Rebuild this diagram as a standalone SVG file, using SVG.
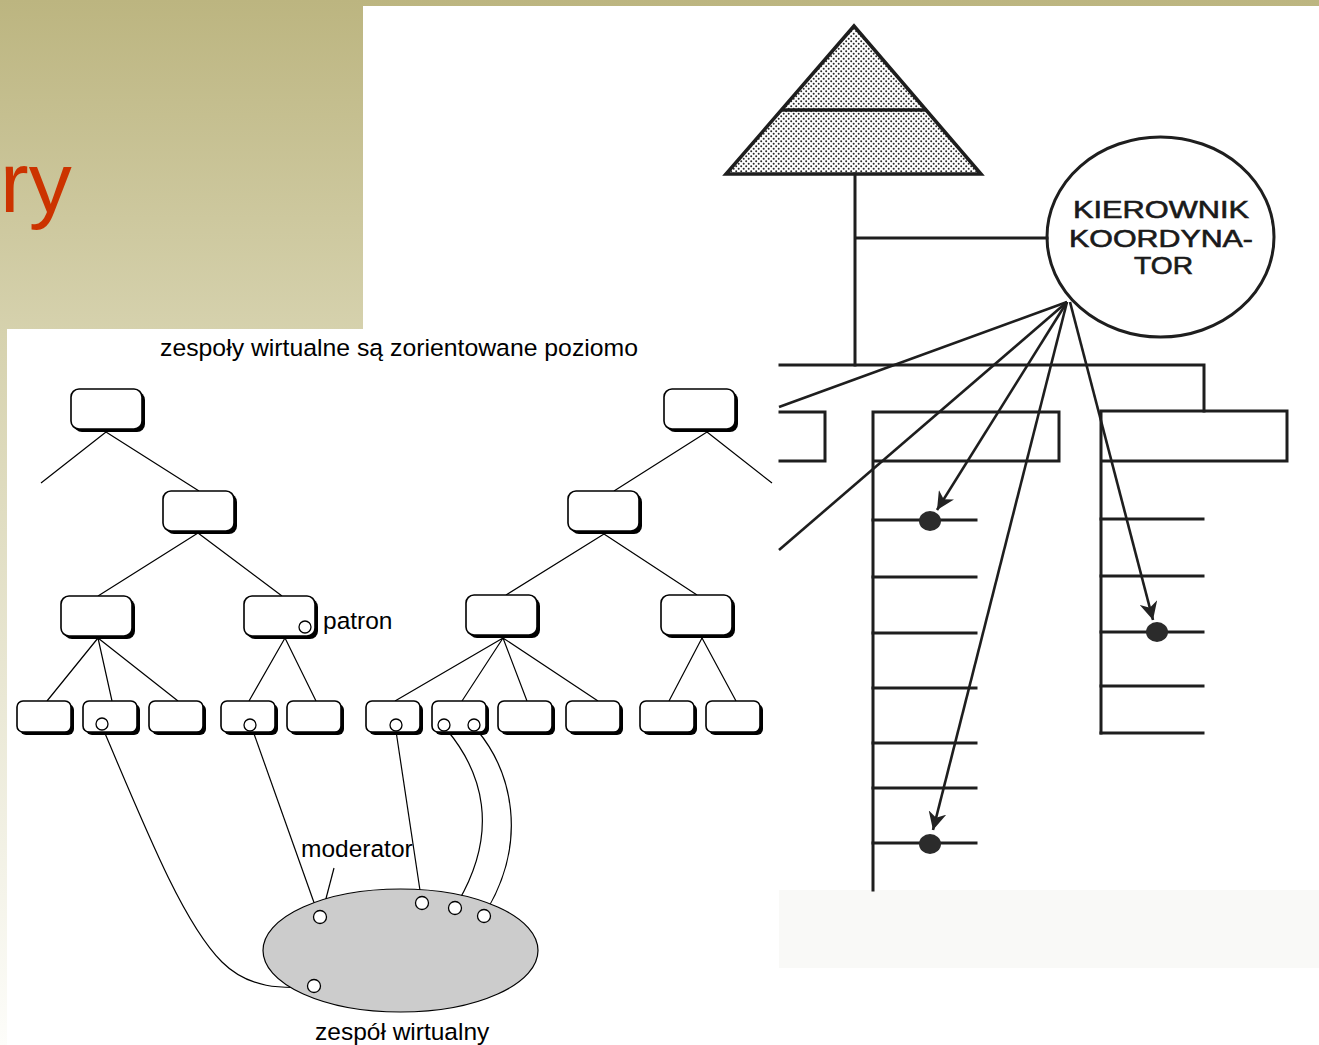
<svg xmlns="http://www.w3.org/2000/svg" width="1319" height="1045" viewBox="0 0 1319 1045">
  <defs>
    <linearGradient id="bg" x1="0" y1="0" x2="0" y2="1045" gradientUnits="userSpaceOnUse">
      <stop offset="0" stop-color="#BCB580"/>
      <stop offset="0.32" stop-color="#D6D2AE"/>
      <stop offset="1" stop-color="#FDFDFA"/>
    </linearGradient>
    <pattern id="stipple" width="5" height="5" patternUnits="userSpaceOnUse">
      <rect width="5" height="5" fill="#ffffff"/>
      <circle cx="1.2" cy="1.2" r="1.0" fill="#2a2a2a"/>
      <circle cx="3.7" cy="3.7" r="1.0" fill="#2a2a2a"/>
    </pattern>
    <marker id="arr" viewBox="0 0 10 10" refX="10" refY="5" markerWidth="18" markerHeight="18" markerUnits="userSpaceOnUse" orient="auto">
      <path d="M0,0 L10,5 L0,10 L3,5 Z" fill="#222"/>
    </marker>
    <g id="bigbox">
      <rect x="3" y="3" width="71" height="40" rx="8" fill="#000"/>
      <rect x="0" y="0" width="71" height="40" rx="8" fill="#fff" stroke="#000" stroke-width="1.6"/>
    </g>
    <g id="leafbox">
      <rect x="3" y="3" width="54" height="31" rx="6" fill="#000"/>
      <rect x="0" y="0" width="54" height="31" rx="6" fill="#fff" stroke="#000" stroke-width="1.6"/>
    </g>
  </defs>
  <style>
    .lbl { font-family: "Liberation Sans", Arial, sans-serif; font-size: 24.5px; fill: #000; }
    .thin { stroke: #000; stroke-width: 1.2; fill: none; }
    .scan { stroke: #1e1e1e; stroke-width: 3; fill: none; stroke-linecap: square; }
    .ray { stroke: #1e1e1e; stroke-width: 2.6; fill: none; }
    .dot { fill: #fff; stroke: #000; stroke-width: 1.3; }
    .blob { fill: #2b2b2b; }
    .kk { font-family: "Liberation Sans", Arial, sans-serif; font-size: 24px; fill: #1a1a1a; stroke: #1a1a1a; stroke-width: 0.6; }
  </style>

  <!-- background -->
  <rect x="0" y="0" width="1319" height="1045" fill="url(#bg)"/>
  <rect x="363" y="6" width="956" height="1039" fill="#ffffff"/>
  <rect x="7" y="329" width="772" height="716" fill="#ffffff"/>
  <rect x="779" y="890" width="540" height="78" fill="#F9F9F7"/>
  <text x="0" y="212" font-family="Liberation Sans, Arial, sans-serif" font-size="86" fill="#CC3300">ry</text>

  <!-- left diagram title and labels -->
  <text class="lbl" x="160" y="356" textLength="478" lengthAdjust="spacingAndGlyphs">zespoły wirtualne są zorientowane poziomo</text>

  <g id="connectors">
    <!-- left tree -->
    <path class="thin" d="M106,432 L41,483 M106,432 L199,491 M198,533 L98,596 M198,533 L282,596 M98,638 L47,701 M98,638 L112,701 M98,638 L178,701 M285,638 L249,701 M285,638 L316,701"/>
    <!-- right tree -->
    <path class="thin" d="M707,432 L614,491 M707,432 L772,483 M604,534 L506,595 M604,534 L697,595 M503,638 L395,701 M503,638 L462,701 M503,638 L527,701 M503,638 L598,701 M702,638 L669,701 M702,638 L736,701"/>
    <!-- virtual team links -->
    <path class="thin" d="M104,731 C150,840 185,925 222,962 C250,990 285,988 308,987"/>
    <path class="thin" d="M253,731 L317,911"/>
    <path class="thin" d="M334,868 L323,910"/>
    <path class="thin" d="M396,731 L421,897"/>
    <path class="thin" d="M447,730 C482,772 500,830 458,902"/>
    <path class="thin" d="M477,730 C512,772 528,840 487,910"/>
  </g>

  <g id="node-tl"><use href="#bigbox" x="71" y="389"/></g>
  <g id="node-l2l"><use href="#bigbox" x="163" y="491"/></g>
  <g id="node-a"><use href="#bigbox" x="61" y="596"/></g>
  <g id="node-b"><use href="#bigbox" x="244" y="596"/><circle class="dot" cx="305" cy="627" r="6"/></g>
  <g id="node-tr"><use href="#bigbox" x="664" y="389"/></g>
  <g id="node-l2r"><use href="#bigbox" x="568" y="491"/></g>
  <g id="node-c"><use href="#bigbox" x="466" y="595"/></g>
  <g id="node-d"><use href="#bigbox" x="661" y="595"/></g>

  <g id="leaf-1"><use href="#leafbox" x="17" y="701"/></g>
  <g id="leaf-2"><use href="#leafbox" x="83" y="701"/><circle class="dot" cx="102" cy="724" r="6"/></g>
  <g id="leaf-3"><use href="#leafbox" x="149" y="701"/></g>
  <g id="leaf-4"><use href="#leafbox" x="221" y="701"/><circle class="dot" cx="250" cy="725" r="6"/></g>
  <g id="leaf-5"><use href="#leafbox" x="287" y="701"/></g>
  <g id="leaf-6"><use href="#leafbox" x="366" y="701"/><circle class="dot" cx="396" cy="725" r="6"/></g>
  <g id="leaf-7"><use href="#leafbox" x="432" y="701"/><circle class="dot" cx="444" cy="725" r="6"/><circle class="dot" cx="474" cy="725" r="6"/></g>
  <g id="leaf-8"><use href="#leafbox" x="498" y="701"/></g>
  <g id="leaf-9"><use href="#leafbox" x="566" y="701"/></g>
  <g id="leaf-10"><use href="#leafbox" x="640" y="701"/></g>
  <g id="leaf-11"><use href="#leafbox" x="706" y="701"/></g>

  <g id="virtual-team">
    <ellipse cx="400.5" cy="950.5" rx="137.5" ry="61.5" fill="#CCCCCC" stroke="#000" stroke-width="1.2"/>
    <circle class="dot" cx="320" cy="917" r="6.5"/>
    <circle class="dot" cx="422" cy="903" r="6.5"/>
    <circle class="dot" cx="455" cy="908" r="6.5"/>
    <circle class="dot" cx="484" cy="916" r="6.5"/>
    <circle class="dot" cx="314" cy="986" r="6.5"/>
  </g>

  <text class="lbl" x="323" y="629">patron</text>
  <text class="lbl" x="301" y="857">moderator</text>
  <text class="lbl" x="315" y="1040">zespół wirtualny</text>

  <!-- right scanned diagram -->
  <g id="pyramid">
    <polygon points="854,26 726,174 981,174" fill="url(#stipple)" stroke="#1e1e1e" stroke-width="3.5" stroke-linejoin="miter"/>
    <line x1="781" y1="110" x2="927" y2="110" stroke="#1e1e1e" stroke-width="3.5"/>
  </g>
  <g id="coordinator">
    <ellipse cx="1160.5" cy="237" rx="113.5" ry="100" fill="#fff" stroke="#1e1e1e" stroke-width="3"/>
    <text class="kk" x="1073" y="218" textLength="176" lengthAdjust="spacingAndGlyphs">KIEROWNIK</text>
    <text class="kk" x="1069" y="247" textLength="184" lengthAdjust="spacingAndGlyphs">KOORDYNA-</text>
    <text class="kk" x="1134" y="274" textLength="59" lengthAdjust="spacingAndGlyphs">TOR</text>
  </g>
  <g id="org-structure">
    <path class="scan" d="M855,174 L855,365 M856,238 L1047,238"/>
    <path class="scan" d="M780,365 L1204,365 L1204,411"/>
    <path class="scan" d="M780,412 L825,412 L825,461 L780,461"/>
    <path class="scan" d="M873,890 L873,412 L1059,412 L1059,461 L873,461"/>
    <path class="scan" d="M1101,733 L1101,411 L1287,411 L1287,461 L1101,461"/>
    <path class="scan" d="M873,520 L976,520 M873,577 L976,577 M873,633 L976,633 M873,688 L976,688 M873,743 L976,743 M873,788 L976,788 M873,843 L976,843"/>
    <path class="scan" d="M1101,519 L1203,519 M1101,576 L1203,576 M1101,632 L1203,632 M1101,686 L1203,686 M1101,733 L1203,733"/>
  </g>
  <g id="rays">
    <path class="ray" d="M1067,302 L779,407"/>
    <path class="ray" d="M1067,302 L779,550"/>
    <path class="ray" d="M1067,302 L937,510" marker-end="url(#arr)"/>
    <path class="ray" d="M1067,302 L933,830" marker-end="url(#arr)"/>
    <path class="ray" d="M1070,302 L1153,620" marker-end="url(#arr)"/>
    <ellipse class="blob" cx="930" cy="521" rx="11" ry="10"/>
    <ellipse class="blob" cx="930" cy="844" rx="11" ry="10"/>
    <ellipse class="blob" cx="1157" cy="632" rx="11" ry="10"/>
  </g>
</svg>
